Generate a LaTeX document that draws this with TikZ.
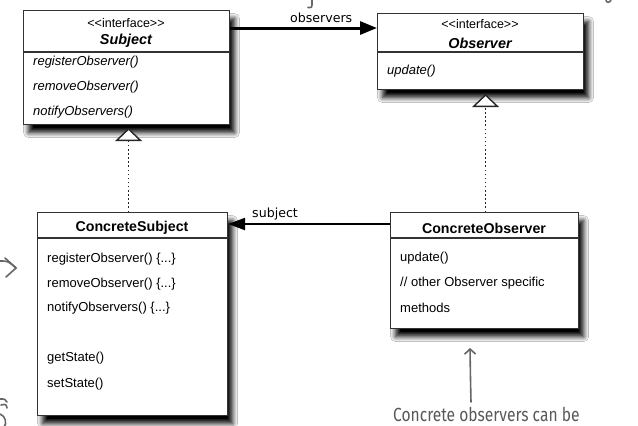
\documentclass[tikz,border=0pt]{standalone}
\usepackage{fontspec}
\setmainfont{Liberation Sans}
\newfontfamily\labelfont{DejaVu Sans}
\newfontfamily\notefont[FakeStretch=0.82]{Fira Sans}
\usetikzlibrary{arrows.meta,shadows.blur}
% guillemet-free stereotype brackets
\newcommand{\stereotype}[1]{<\kern0pt<#1>\kern0pt>}

\begin{document}
\begin{tikzpicture}[x=1pt,y=-1pt,
  umlbox/.style={draw=black!80, line width=1.1pt, fill=white, anchor=north west,
    inner sep=0pt,
    blur shadow={shadow xshift=5pt, shadow yshift=-8pt,
      shadow blur radius=5pt, shadow opacity=100, shadow blur steps=8}},
  divider/.style={draw=black!80, line width=1.1pt},
  stereo/.style={inner sep=0pt, font=\fontsize{12.5}{14}\selectfont},
  ifacename/.style={inner sep=0pt, font=\fontsize{14.4}{16}\selectfont\bfseries\itshape},
  classname/.style={inner sep=0pt, font=\fontsize{14.2}{16}\selectfont\bfseries},
  member/.style={anchor=west, inner sep=0pt, font=\fontsize{13}{15}\selectfont},
  abstractmember/.style={member, font=\fontsize{13}{15}\selectfont\itshape},
  assoc/.style={line width=#1, draw=black},
  linklabel/.style={inner sep=1pt, font=\labelfont\fontsize{12.6}{14}\selectfont},
  realize/.style={draw=black!85, line width=1.8pt, dash pattern=on 1.5pt off 2.6pt,
    -{Triangle[open, fill=white, length=13pt, width=27pt, line width=1.4pt]}},
  hand/.style={draw=black!60, line width=1.6pt, line cap=round, line join=round},
  note/.style={inner sep=0pt, text=black!65, font=\notefont\fontsize{19}{22}\selectfont}
]
\useasboundingbox (0,0) rectangle (638,426);
\clip (0,0) rectangle (638,426);
\fill[white] (0,0) rectangle (638,426);

% ---- interface Subject ----
\node[umlbox, minimum width=206pt, minimum height=114pt] (sub) at (23,10) {};
\draw[divider] ([yshift=-42pt]sub.north west) -- ([yshift=-42pt]sub.north east);
\node[stereo] (subst) at (126,23) {\stereotype{interface}};
\node[ifacename] (subnm) at (126,41) {Subject};
\node[abstractmember] (sub1) at (33,62) {registerObserver()};
\node[abstractmember] (sub2) at (33,87) {removeObserver()};
\node[abstractmember] (sub3) at (33,112) {notifyObservers()};

% ---- interface Observer ----
\node[umlbox, minimum width=206pt, minimum height=76pt] (obs) at (377,13) {};
\draw[divider] ([yshift=-39pt]obs.north west) -- ([yshift=-39pt]obs.north east);
\node[stereo] (obsst) at (480,24) {\stereotype{interface}};
\node[ifacename] (obsnm) at (480,43) {Observer};
\node[abstractmember] (obs1) at (387,71) {update()};

% ---- class ConcreteSubject ----
\node[umlbox, minimum width=190pt, minimum height=203pt] (cs) at (37,212) {};
\draw[divider] ([yshift=-26pt]cs.north west) -- ([yshift=-26pt]cs.north east);
\node[classname] (csnm) at (132,228) {ConcreteSubject};
\node[member] (cs1) at (47,259) {registerObserver() \{...\}};
\node[member] (cs2) at (47,284) {removeObserver() \{...\}};
\node[member] (cs3) at (47,308) {notifyObservers() \{...\}};
\node[member] (cs4) at (47,358) {getState()};
\node[member] (cs5) at (47,384) {setState()};

% ---- class ConcreteObserver ----
\node[umlbox, minimum width=188pt, minimum height=116pt] (co) at (390,212) {};
\draw[divider] ([yshift=-26pt]co.north west) -- ([yshift=-26pt]co.north east);
\node[classname] (conm) at (484,228) {ConcreteObserver};
\node[member] (co1) at (400,258) {update()};
\node[member] (co2) at (400,283) {// other Observer specific};
\node[member] (co3) at (400,308) {methods};

% ---- associations ----
\draw[assoc=3pt, -{Triangle[length=17pt, width=13pt]}]
  ([yshift=-18pt]sub.north east) -- ([yshift=-18pt]sub.north east -| obs.west)
  node[linklabel, above=3pt, pos=0.62] (lblobs) {observers};
\draw[assoc=2.2pt, -{Triangle[length=17pt, width=12pt]}]
  ([yshift=-12pt]co.north west) -- ([yshift=-12pt]co.north west -| cs.east)
  node[linklabel, above=2pt, pos=0.71] (lblsub) {subject};

% ---- realizations ----
\draw[realize, shorten >=3pt] ([xshift=-4pt]cs.north) -- ([xshift=2pt]sub.south);
\draw[realize, shorten >=4pt] ([xshift=5pt]obs.south |- co.north) -- ([xshift=5pt]obs.south);

% ---- hand-written notes ----
\node[note, anchor=base west] (cnote) at (393,421) {Concrete observers can be};
\coordinate (cnarrow) at (471,402);
\coordinate (cntip) at (470,348);
\draw[hand, -{Straight Barb[length=5pt, width=11pt, line width=1.6pt]}]
  (cnarrow) .. controls (470.5,380) .. (cntip);

% edge fragments of neighbouring notes
\draw[hand] (312,0) -- (312,5) .. controls (312,7.5) .. (308,7.5);
\draw[hand] (0,261) .. controls (8,261) .. (16,268);
\draw[hand] (5,258) -- (16,268) -- (6,277);
\draw[hand] (0,399) .. controls (5,399) .. (7,402);
\draw[hand] (1,405) .. controls (6,404) .. (7,408);
\draw[hand] (0,414) .. controls (6,416) and (7,424) .. (4,427);
\draw[hand] (606,0) .. controls (606,3) and (610,3) .. (611,0);
\end{tikzpicture}
\end{document}
